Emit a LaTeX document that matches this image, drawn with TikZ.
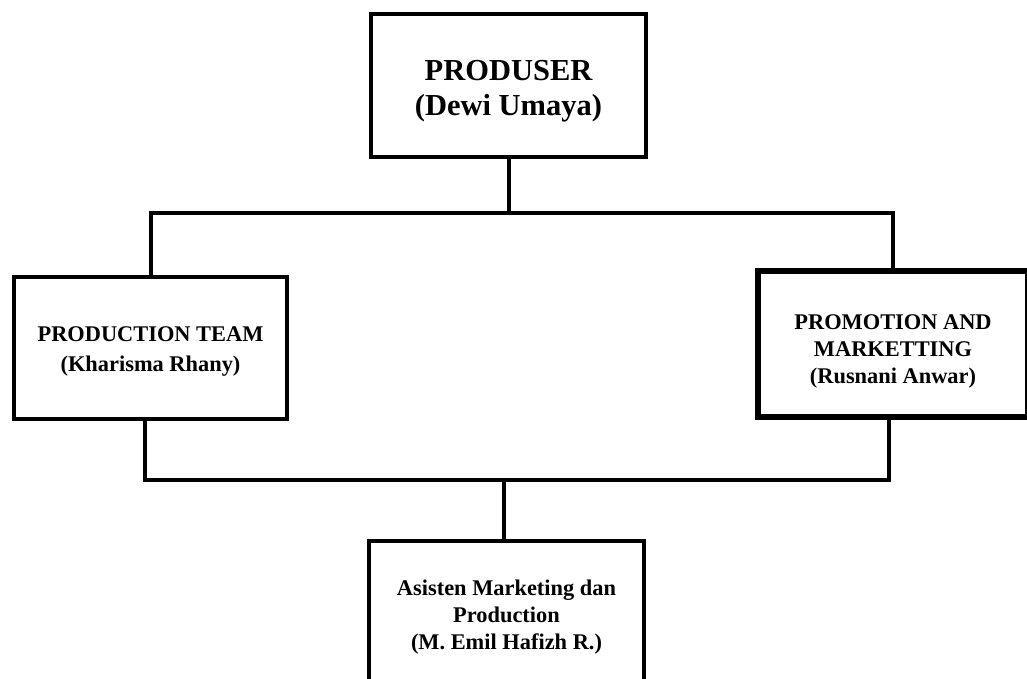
\documentclass[tikz,border=0pt]{standalone}
\usepackage{fontspec}
\setmainfont{Liberation Serif}
\usetikzlibrary{positioning}
\newcommand\toplift[1]{\rule{0pt}{#1}}

\begin{document}
\begin{tikzpicture}[x=0.5pt,y=-0.5pt,
  orgbox/.style={draw, line width=2pt, align=center, inner sep=0pt,
    font=\bfseries\fontsize{11.2}{13.5}\selectfont},
  link/.style={line width=2pt}]
  \useasboundingbox (0,0) rectangle (1027,679);
  \clip (0,0) rectangle (1027,679);
  \node[orgbox, minimum width=137.5pt, minimum height=71.5pt,
    font=\bfseries\fontsize{15.25}{17.5}\selectfont] (produser) at (508.5,85.5)
    {\toplift{16pt}PRODUSER\\(Dewi Umaya)};
  \node[orgbox, minimum width=136.5pt, minimum height=71pt,
    font=\bfseries\fontsize{11.2}{15}\selectfont] (team) at (150.5,348)
    {\toplift{11.4pt}PRODUCTION TEAM\\(Kharisma Rhany)};
  \node[orgbox, line width=3pt, minimum width=135pt, minimum height=73pt] (promo) at (893,344)
    {\toplift{14.4pt}PROMOTION AND\\MARKETTING\\(Rusnani Anwar)};
  \node[orgbox, minimum width=137.5pt, minimum height=72pt] (asisten) at (506.5,613)
    {\toplift{11.6pt}Asisten Marketing dan\\Production\\(M. Emil Hafizh R.)};
  \coordinate (topbus) at (508,213);
  \coordinate (botbus) at (504,480);
  \draw[link] (produser.south) -- (produser.south |- topbus);
  \draw[link] (team.north) |- (topbus) -| (promo.north);
  \draw[link] ([xshift=-3pt]team.south) |- (botbus) -| ([xshift=-2pt]promo.south);
  \draw[link] (botbus) -- (asisten.north -| botbus);
\end{tikzpicture}
\end{document}
